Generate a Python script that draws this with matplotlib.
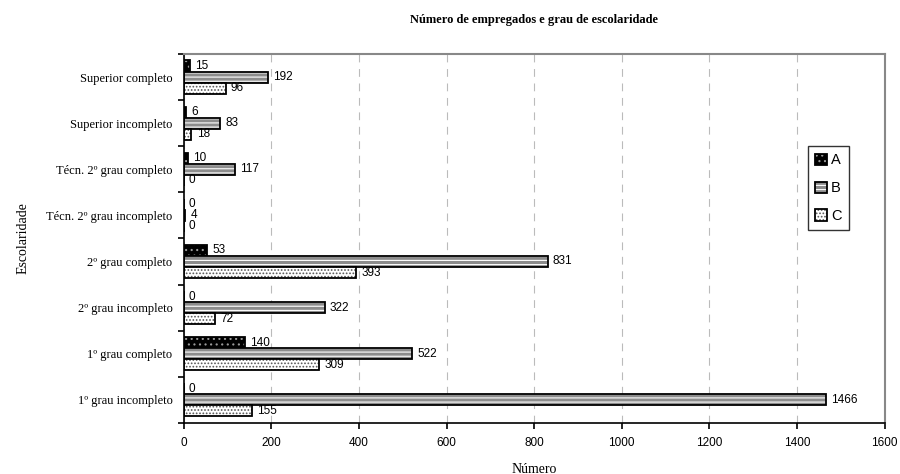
import numpy as np
import matplotlib
matplotlib.use('Agg')
import matplotlib.pyplot as plt
from matplotlib.patches import Patch

# Employees by schooling level, three groups
categorias = ['1º grau incompleto', '1º grau completo', '2º grau incompleto',
              '2º grau completo', 'Técn. 2º grau incompleto',
              'Técn. 2º grau completo', 'Superior incompleto', 'Superior completo']
serie_a = [0, 140, 0, 53, 0, 10, 6, 15]
serie_b = [1466, 522, 322, 831, 4, 117, 83, 192]
serie_c = [155, 309, 72, 393, 0, 0, 18, 96]
series = ['A', 'B', 'C']
xticks = [0, 200, 400, 600, 800, 1000, 1200, 1400, 1600]

plt.rcParams['hatch.linewidth'] = 0.8

fig = plt.figure(figsize=(9, 4.74), dpi=100)
ax = fig.add_axes([0.204, 0.108, 0.779, 0.778])

# fill colour, hatch pattern, hatch colour per series
estilos = [('black', '...', '#999999'),
           ('#8c8c8c', '----', 'white'),
           ('white', '.....', '#555555')]

y = np.arange(len(categorias))
h = 0.24
offsets = [h, 0, -h]
handles = []
for valores, nome, off, (fc, hatch, hc) in zip([serie_a, serie_b, serie_c], series, offsets, estilos):
    ax.barh(y + off, valores, height=h, color=fc, hatch=hatch, edgecolor=hc, linewidth=0)
    ax.barh(y + off, valores, height=h, fill=False, edgecolor='black', linewidth=1.3)
    for yi, v in zip(y, valores):
        ax.text(v + 12, yi + off, str(v), va='center', ha='left', fontsize=8.5,
                family='Liberation Sans')
    handles.append((Patch(facecolor=fc, hatch=hatch, edgecolor=hc, linewidth=0),
                    Patch(fill=False, edgecolor='black', linewidth=1.3)))

ax.set_xlim(0, 1600)
ax.set_ylim(-0.5, len(categorias) - 0.5)
ax.set_xticks(xticks)
ax.set_xticklabels([str(t) for t in xticks], family='Liberation Sans', fontsize=8.5)
ax.tick_params(axis='x', pad=6)
ax.set_yticks(y)
ax.set_yticklabels(categorias, family='Liberation Serif', fontsize=9)
ax.tick_params(axis='y', length=0, pad=8)
ax.set_yticks(np.arange(-0.5, len(categorias)), minor=True)
ax.tick_params(axis='y', which='minor', length=4, width=1.2)
ax.tick_params(axis='x', length=4, width=1.2)

ax.grid(axis='x', linestyle=(0, (7, 6)), color='#bbbbbb', linewidth=0.8)
ax.set_axisbelow(True)
for s in ['top', 'right']:
    ax.spines[s].set_color('#888888')
    ax.spines[s].set_linewidth(1.5)
for s in ['left', 'bottom']:
    ax.spines[s].set_linewidth(1.2)

ax.set_xlabel('Número', family='Liberation Serif', fontsize=10, labelpad=10)
ax.set_ylabel('Escolaridade', family='Liberation Serif', fontsize=10, labelpad=12)
ax.set_title('Número de empregados e grau de escolaridade', family='Liberation Serif',
             fontsize=9, fontweight='bold', pad=22)

leg = ax.legend(handles, series, loc='upper left', bbox_to_anchor=(0.88, 0.77),
                prop={'family': 'Liberation Sans', 'size': 10.5}, frameon=True,
                fancybox=False, edgecolor='black', handlelength=0.8, handleheight=0.8,
                handletextpad=0.3, labelspacing=0.95, borderpad=0.5)
leg.get_frame().set_linewidth(1.0)

fig.savefig('out.png', dpi=100)
